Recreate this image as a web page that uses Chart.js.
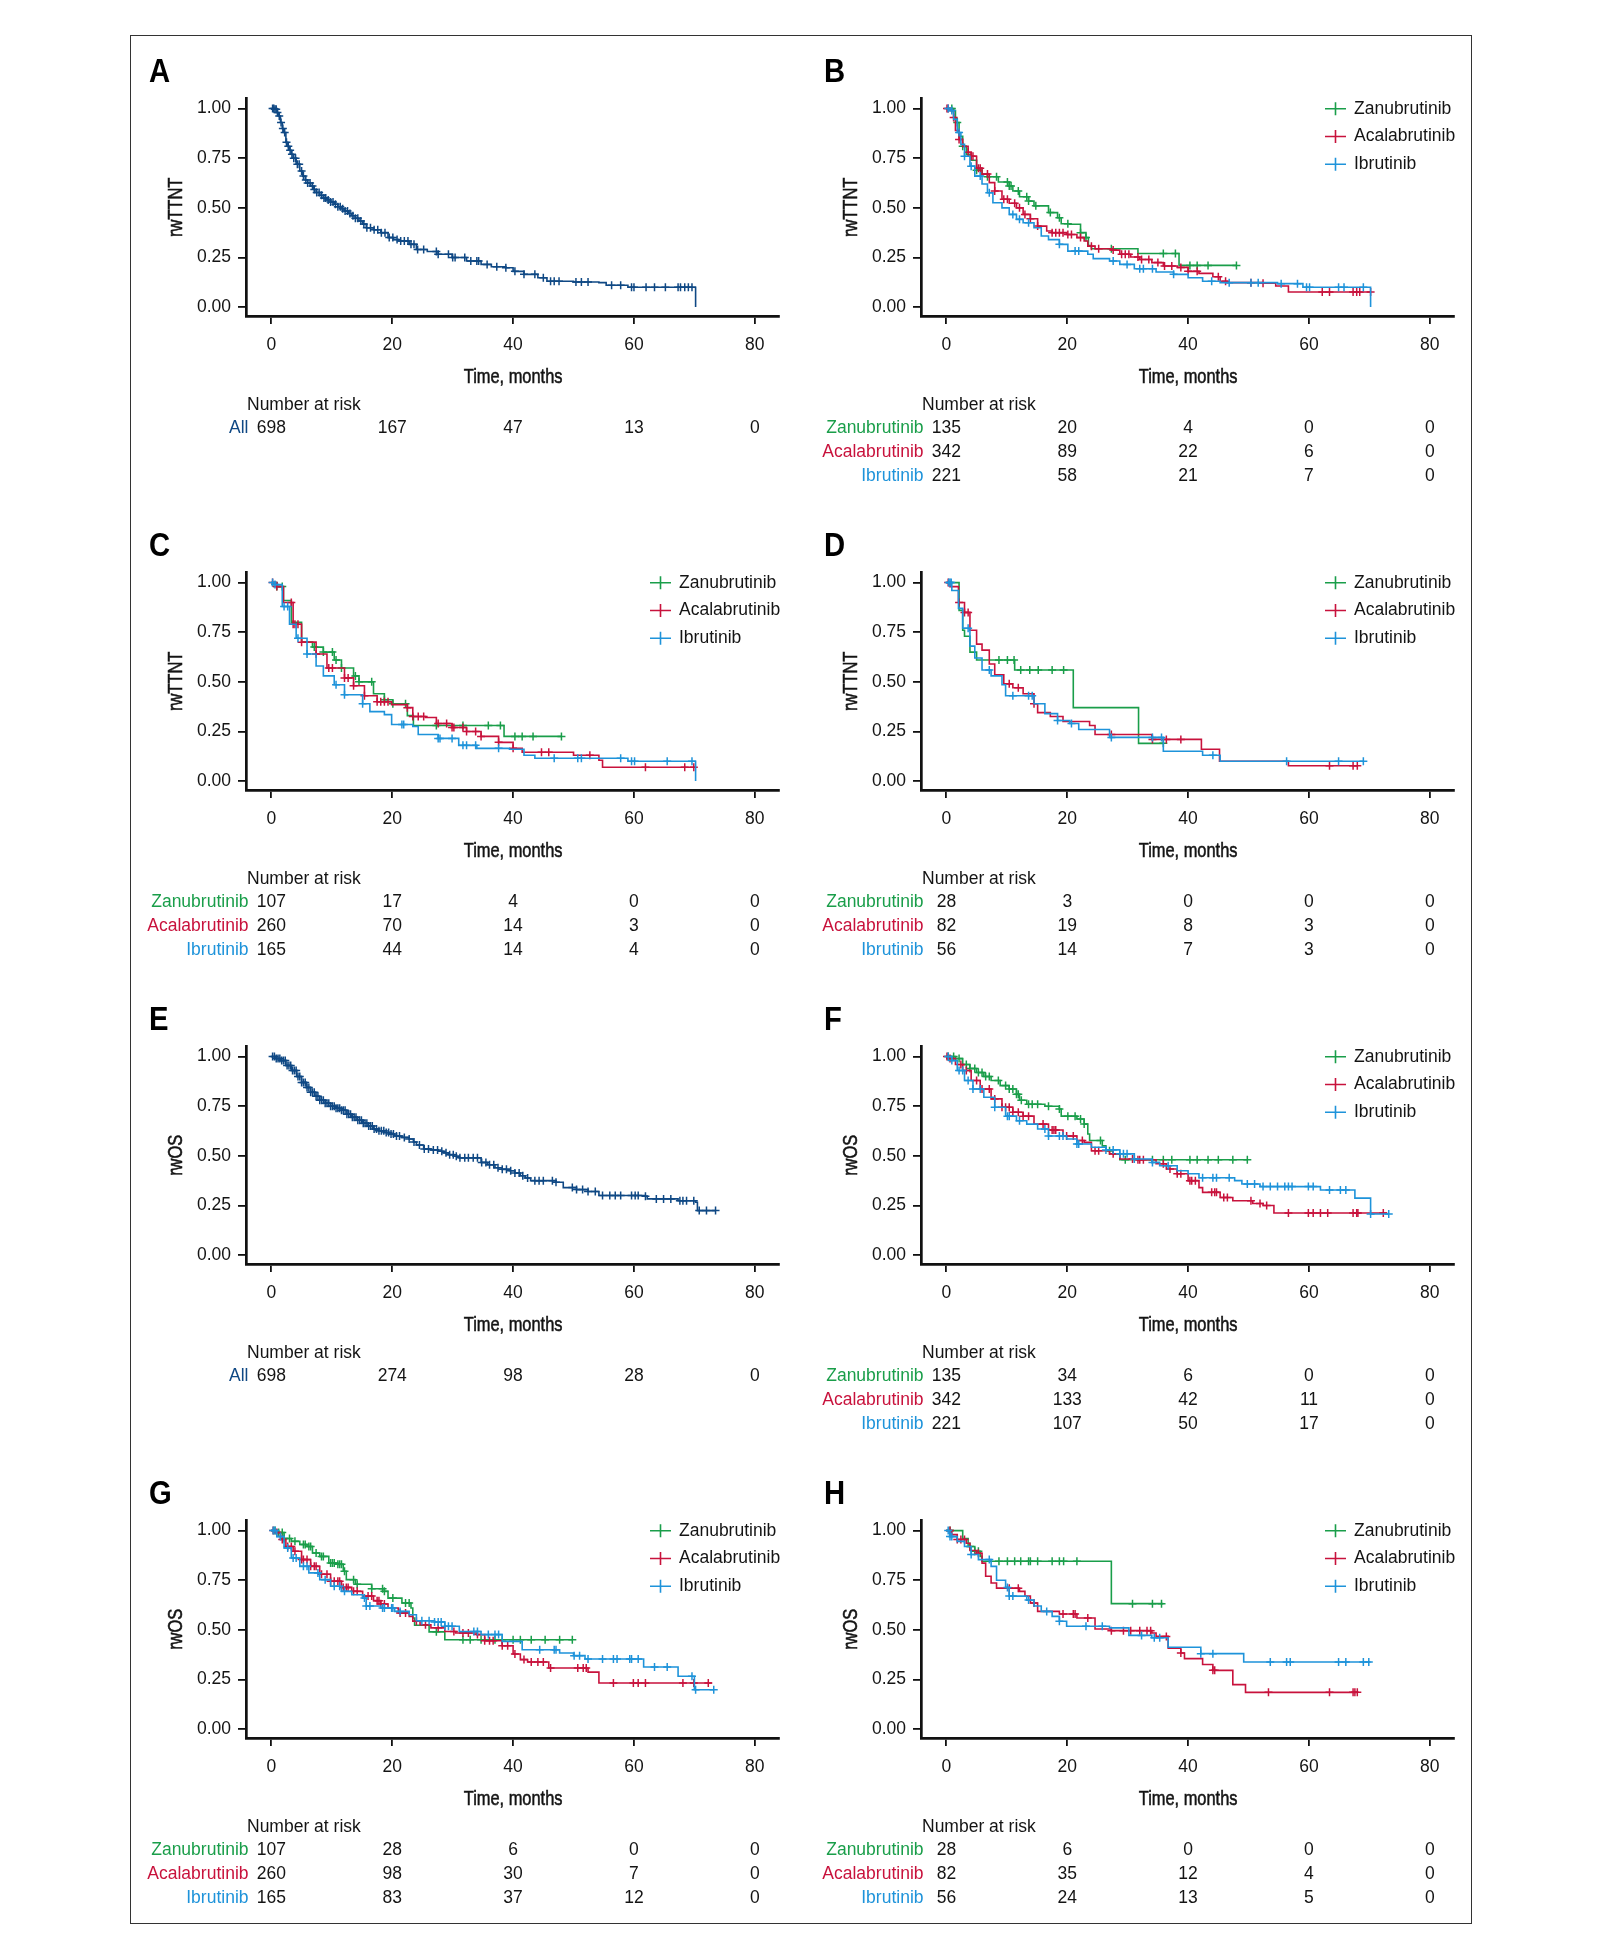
<!DOCTYPE html>
<html><head><meta charset="utf-8">
<script src="https://cdn.jsdelivr.net/npm/chart.js@4.4.1/dist/chart.umd.min.js"></script>
<style>
html,body{margin:0;padding:0;background:#fff;width:1605px;height:1935px;overflow:hidden;}
#frame{position:absolute;left:130px;top:35px;width:1342px;height:1889px;border:1.5px solid #333;box-sizing:border-box;}
canvas{position:absolute;}
</style></head><body>
<div id="frame"></div>
<script>
// ---------- axes ----------
const xTickValues = [0, 20, 40, 60, 80];
const xTickLabels = ['0', '20', '40', '60', '80'];
const yTickValues = [0, 0.25, 0.5, 0.75, 1];
const yTickLabels = ['0.00', '0.25', '0.50', '0.75', '1.00'];
const groupNames = ['Zanubrutinib', 'Acalabrutinib', 'Ibrutinib'];
const allName = 'All';
const xTitle = 'Time, months';
const yTitleTTNT = 'rwTTNT';
const yTitleOS = 'rwOS';

// ---------- Panel A : rwTTNT, all ----------
const A_all_time = [0,0.6,1.0,1.2,1.5,1.8,2.0,2.4,2.7,3.0,3.3,3.6,4.1,4.7,5.2,5.6,6.0,6.5,7.0,7.4,8.0,8.6,9.2,9.8,10.4,11,11.6,12.1,12.7,13.3,13.9,14.5,15.1,15.7,16.9,18.1,19.3,20.2,21,22.8,24,25.8,27.6,29.9,32.3,34.7,36.4,38.8,40,41.8,44.1,45.6,50,54.2,55.4,59,70.2];
const A_all_surv = [1,0.997,0.98,0.963,0.93,0.90,0.88,0.83,0.81,0.79,0.77,0.75,0.72,0.686,0.66,0.64,0.625,0.61,0.593,0.577,0.563,0.55,0.54,0.53,0.518,0.506,0.495,0.484,0.472,0.46,0.447,0.434,0.418,0.40,0.39,0.375,0.35,0.34,0.333,0.316,0.29,0.28,0.266,0.25,0.232,0.215,0.203,0.198,0.18,0.165,0.148,0.13,0.126,0.123,0.11,0.10,0];
const A_all_cens = [0.2,0.4,0.6,0.8,1.0,1.3,1.6,1.9,2.2,2.5,2.8,3.1,3.4,3.7,4.0,4.3,4.6,5.0,5.3,5.7,6.0,6.4,6.8,7.1,7.5,7.9,8.3,8.7,9.0,9.4,9.8,10.2,10.6,11.0,11.4,11.8,12.2,12.6,13.0,13.5,13.9,14.3,14.8,15.3,15.8,16.4,17.0,17.6,18.2,18.8,19.5,20.1,20.8,21.4,22.0,22.6,23.1,23.6,24.2,25.2,27.3,27.6,29.3,30.0,30.4,32.0,33.0,34.0,34.3,35.7,37.3,38.8,40.3,41.8,43.6,45.0,46.2,46.8,47.6,50.4,51.3,52.4,56.3,57.8,59.6,60.0,62.0,63.4,65.2,67.3,67.7,68.4,69.0,69.6];
const A_all_risk = [698, 167, 47, 13, 0];

// ---------- Panel B : rwTTNT by BTKi ----------
const B_zan_time = [0,1.2,1.5,1.8,2.1,2.7,3.3,4.1,5,5.9,6.8,8.6,10.4,11,12.1,13.6,14.5,16.9,18.4,19,20.4,22.2,23.1,23.5,24,31.7,38.5,48];
const B_zan_surv = [1,0.99,0.95,0.93,0.86,0.81,0.77,0.74,0.69,0.67,0.657,0.63,0.61,0.585,0.556,0.534,0.51,0.476,0.45,0.42,0.417,0.375,0.35,0.31,0.294,0.27,0.21,0.21];
const B_zan_cens = [0.9,1.8,2.7,5.0,6.8,8.3,10.1,10.4,10.7,11.9,13.3,13.6,14.8,17.2,18.7,20.1,22.2,23.1,27.3,35.9,37.9,40.3,41.5,43.3,48.0];
const B_zan_risk = [135, 20, 4, 0, 0];
const B_aca_time = [0,0.6,1.2,1.5,2.1,2.7,3.6,4.1,5,5.9,7.1,8,9.2,10.4,11.6,12.7,13.9,15.1,16.6,17.5,19.9,21.6,22.8,23.4,24.6,27.3,28.7,30.5,32,34,35.9,38.2,40,41.8,44.1,45.3,46.5,52.4,54.5,56.6,70.2];
const B_aca_surv = [1,0.99,0.955,0.89,0.845,0.81,0.78,0.76,0.70,0.67,0.627,0.585,0.543,0.523,0.50,0.467,0.445,0.408,0.383,0.375,0.366,0.35,0.333,0.307,0.294,0.287,0.266,0.252,0.24,0.224,0.207,0.20,0.18,0.17,0.153,0.13,0.123,0.12,0.106,0.076,0.076];
const B_aca_cens = [0.1,0.3,1.2,2.1,3.6,4.1,4.4,5.3,5.6,6.8,8.0,9.5,10.1,11.3,12.1,13.0,13.9,15.1,17.5,18.1,18.7,19.3,20.1,20.7,22.2,24.0,25.2,27.6,29.0,29.6,30.2,31.7,32.3,33.5,35.0,36.1,37.3,38.8,40.0,41.5,45.0,46.2,50.4,52.4,62.2,63.4,67.3,67.9,68.4,70.2];
const B_aca_risk = [342, 89, 22, 6, 0];
const B_ibr_time = [0,0.6,1.2,1.8,2.4,3,3.9,4.7,5.9,6.8,7.7,9.2,10.4,11.6,12.7,14.5,15.7,16.9,18.7,20.1,23.4,24.3,27,28.7,31.1,34.7,37.6,40,42.4,45.3,54.8,59,70.2];
const B_ibr_surv = [1,0.99,0.946,0.88,0.82,0.76,0.71,0.66,0.62,0.576,0.526,0.50,0.467,0.442,0.425,0.40,0.358,0.34,0.316,0.282,0.266,0.244,0.232,0.215,0.193,0.177,0.165,0.148,0.13,0.123,0.118,0.10,0];
const B_ibr_cens = [0.3,0.9,2.1,3.0,4.1,5.6,7.1,11.0,12.1,13.6,18.7,21.3,21.9,27.6,29.9,32.0,32.6,34.1,37.6,43.9,46.8,50.4,51.6,55.4,58.1,59.6,60.1,64.9,65.8,69.0];
const B_ibr_risk = [221, 58, 21, 7, 0];

// ---------- Panel C ----------
const C_zan_time = [0,0.9,2,3.3,5,6.8,8.6,10.4,11.6,13.6,14.5,16.9,18.7,20.1,22.5,23.5,38.5,48];
const C_zan_surv = [1,0.98,0.91,0.80,0.70,0.675,0.65,0.61,0.57,0.53,0.50,0.44,0.41,0.39,0.33,0.28,0.225,0.225];
const C_zan_cens = [0.9,1.8,7.1,8.6,10.1,10.7,11.6,13.9,14.5,16.6,18.7,20.1,22.2,27.3,31.7,35.9,37.9,40.3,41.5,43.3,48.0];
const C_zan_risk = [107, 17, 4, 0, 0];
const C_aca_time = [0,0.9,2,3.6,5,7.4,9.2,12.1,13.6,15.4,17.5,19.9,22.5,23.4,25.5,27.3,29.9,32.3,34.7,37.6,40,41.5,50,54.2,54.8,70.2];
const C_aca_surv = [1,0.98,0.90,0.79,0.70,0.64,0.57,0.52,0.48,0.43,0.40,0.385,0.37,0.325,0.32,0.29,0.27,0.25,0.225,0.195,0.165,0.145,0.13,0.105,0.07,0.07];
const C_aca_cens = [0.2,0.9,3.3,3.6,3.9,4.4,5.0,7.4,9.5,10.1,12.1,12.7,13.6,15.4,17.5,18.1,18.7,19.3,22.5,23.4,24.3,25.2,27.6,29.0,29.9,30.2,31.7,32.3,33.8,34.7,37.6,40.0,44.7,45.9,52.7,61.9,68.4,69.9];
const C_aca_risk = [260, 70, 14, 3, 0];
const C_ibr_time = [0,0.6,1.8,3,4.1,5.9,7.4,8.6,10.4,12.1,15.1,16.3,18.7,19.9,23.4,24.3,27.6,31,34,39.4,41.8,43.6,59,70.2];
const C_ibr_surv = [1,0.99,0.88,0.79,0.72,0.64,0.58,0.53,0.485,0.435,0.39,0.35,0.335,0.285,0.275,0.235,0.215,0.18,0.165,0.16,0.13,0.115,0.10,0];
const C_ibr_cens = [0.2,0.6,2.1,2.7,4.4,5.9,10.7,12.1,15.1,21.6,21.9,27.6,27.9,29.9,31.7,32.3,33.8,37.6,46.8,50.7,51.3,57.8,59.6,60.1,65.5,69.6];
const C_ibr_risk = [165, 44, 14, 4, 0];

// ---------- Panel D ----------
const D_zan_time = [0,2.1,2.7,3.0,3.9,5.0,11.3,21,31.8,35.9];
const D_zan_surv = [1,0.86,0.76,0.73,0.65,0.61,0.56,0.37,0.19,0.19];
const D_zan_cens = [8.7,10.1,11.2,12.3,13.8,15.2,17.5,19.4,35.9];
const D_zan_risk = [28, 3, 0, 0, 0];
const D_aca_time = [0,0.6,2,3,3.9,5,5.9,7.1,8,9.5,11,12.7,14.5,15.1,17.2,19.3,23.7,24.6,34,42.2,45.2,56.6,68.1];
const D_aca_surv = [1,0.98,0.90,0.85,0.76,0.69,0.66,0.59,0.535,0.49,0.47,0.44,0.39,0.345,0.325,0.30,0.28,0.235,0.21,0.16,0.10,0.077,0.077];
const D_aca_cens = [0.3,2.1,3.0,3.6,10.4,11.9,14.5,27.3,34.1,36.4,38.8,63.4,67.3,68.0];
const D_aca_risk = [82, 19, 8, 3, 0];
const D_ibr_time = [0,0.9,2,2.7,3.9,4.7,5.9,7.4,9.2,9.8,14.5,16.3,18.4,20.4,21.9,27,35.9,42.4,45.3,69];
const D_ibr_surv = [1,0.96,0.87,0.77,0.68,0.62,0.56,0.53,0.485,0.43,0.39,0.34,0.305,0.29,0.26,0.22,0.15,0.13,0.10,0.10];
const D_ibr_cens = [0.4,0.6,0.8,3.6,7.1,11.0,13.6,14.2,18.4,20.7,27.3,34.1,35.6,44.1,56.3,64.9,69.0];
const D_ibr_risk = [56, 14, 7, 3, 0];

// ---------- Panel E : rwOS, all ----------
const E_all_time = [0,0.8,1.5,2.4,3.3,4.2,5,5.8,6.5,7.2,8,8.9,9.8,10.7,11.6,12.5,13.3,14.2,15.1,16,16.9,17.8,18.7,19.6,20.4,21.6,22.8,23.5,24,25.2,26.4,27.6,28.5,29.3,30.2,31.1,34.7,35.8,37,38.2,39.4,40.3,41.2,42,42.9,47.1,48.3,50.5,52.4,54.2,61.9,62.2,67.3,70.2,70.5,73.5];
const E_all_surv = [1,0.99,0.98,0.955,0.93,0.90,0.87,0.845,0.82,0.80,0.78,0.765,0.75,0.74,0.73,0.71,0.694,0.68,0.664,0.65,0.635,0.626,0.618,0.61,0.60,0.593,0.585,0.57,0.555,0.535,0.53,0.523,0.515,0.506,0.498,0.49,0.467,0.455,0.44,0.432,0.425,0.413,0.40,0.388,0.375,0.367,0.34,0.33,0.32,0.30,0.297,0.283,0.274,0.266,0.224,0.224];
const E_all_cens = [0.2,0.5,0.8,1.1,1.4,1.7,2.0,2.3,2.6,2.9,3.2,3.5,3.8,4.1,4.4,4.7,5.0,5.3,5.6,5.9,6.2,6.5,6.8,7.1,7.4,7.7,8.0,8.3,8.6,8.9,9.2,9.5,9.8,10.1,10.4,10.7,11.0,11.3,11.6,11.9,12.2,12.5,12.8,13.1,13.4,13.7,14.0,14.3,14.6,14.9,15.2,15.5,15.8,16.1,16.4,16.7,17.0,17.4,17.8,18.2,18.6,19.0,19.4,19.8,20.2,20.7,21.2,22.0,22.8,23.6,24.5,25.3,26.0,26.8,27.5,28.2,28.9,29.5,30.1,30.6,31.2,32.0,32.6,33.4,34.1,34.8,35.5,36.1,36.8,37.5,38.2,38.9,39.6,40.3,41.0,41.6,42.4,43.6,44.3,45.0,46.5,47.1,49.8,50.5,51.5,52.4,53.6,54.8,56.0,56.9,57.8,59.6,60.2,60.7,61.9,63.7,64.9,66.1,67.6,68.1,68.7,69.9,70.8,72.0,73.5];
const E_all_risk = [698, 274, 98, 28, 0];

// ---------- Panel F ----------
const F_zan_time = [0,1.5,2.7,3.9,5,6.2,7.4,8.9,10.4,11.6,12.1,13.3,16.3,18.7,19,21.6,22.8,23.4,23.7,25.8,26.4,27.6,28.7,49.8];
const F_zan_surv = [1,0.99,0.96,0.94,0.92,0.90,0.88,0.854,0.837,0.81,0.78,0.76,0.75,0.736,0.70,0.686,0.66,0.61,0.577,0.55,0.526,0.51,0.48,0.48];
const F_zan_cens = [0.3,1.2,2.1,3.3,3.9,4.7,5.3,5.9,6.5,7.1,8.6,9.8,10.4,11.0,11.6,11.9,12.4,13.6,14.2,15.1,16.9,18.7,20.1,21.3,22.2,22.8,25.5,27.0,29.6,34.1,35.9,37.3,40.3,41.5,43.3,45.0,47.4,49.8];
const F_zan_risk = [135, 34, 6, 0, 0];
const F_aca_time = [0,0.3,1.5,2.7,4.1,5.6,7.4,9.2,11,12.7,14.5,16.9,19.3,21.6,22.8,24,27,28.7,31.7,34.7,36.4,38.2,40,41.8,42.4,45.3,47.4,50.7,52.4,54.2,72.9];
const F_aca_surv = [1,0.99,0.96,0.93,0.88,0.837,0.787,0.745,0.72,0.70,0.66,0.63,0.60,0.577,0.568,0.526,0.51,0.484,0.48,0.46,0.434,0.41,0.375,0.34,0.316,0.29,0.274,0.26,0.25,0.212,0.212];
const F_aca_cens = [0.1,0.6,2.4,3.3,5.0,5.9,7.1,8.0,9.2,9.8,10.4,11.0,11.9,12.7,13.6,16.0,17.5,17.8,18.1,19.9,21.0,22.5,24.6,25.2,27.6,30.8,31.7,32.0,32.6,35.9,37.0,38.2,38.8,40.3,40.6,41.2,43.9,44.4,44.7,45.9,46.5,50.4,51.9,53.0,56.6,59.9,60.7,61.9,63.1,67.3,67.9,68.1,72.3];
const F_aca_risk = [342, 133, 42, 11, 0];
const F_ibr_time = [0,0.9,1.8,3,4.4,6.2,8,9.8,11.6,13.3,15.1,16.9,19.9,21.6,24,26.4,28.7,31.1,34,35.3,38.2,40,41.8,47.7,48.9,51.9,61.9,67.6,70.2,73.2];
const F_ibr_surv = [1,0.98,0.93,0.88,0.837,0.795,0.745,0.70,0.677,0.66,0.635,0.60,0.585,0.56,0.543,0.53,0.51,0.484,0.467,0.45,0.425,0.41,0.39,0.375,0.358,0.345,0.328,0.287,0.207,0.207];
const F_ibr_cens = [0.3,0.9,2.1,2.7,3.6,4.4,5.6,8.0,10.1,10.4,12.1,16.3,16.9,18.7,19.3,21.6,21.9,26.4,27.6,28.7,29.3,29.9,31.1,34.1,36.7,42.4,44.1,44.7,46.8,49.8,51.0,52.4,53.6,54.8,56.0,56.6,57.2,59.9,60.7,63.4,65.2,66.1,70.2,73.2];
const F_ibr_risk = [221, 107, 50, 17, 0];

// ---------- Panel G ----------
const G_zan_time = [0,1.2,2.1,3.3,4.7,5.9,6.8,8,9.5,11,11.9,12.4,13.9,16.6,18.7,19.3,21.6,23.1,23.4,23.7,26.1,28.7,49.8];
const G_zan_surv = [1,0.99,0.96,0.946,0.93,0.92,0.887,0.87,0.837,0.83,0.795,0.753,0.73,0.707,0.694,0.66,0.635,0.61,0.56,0.523,0.49,0.45,0.45];
const G_zan_cens = [0.6,1.2,1.8,2.1,3.0,3.9,5.3,5.6,6.2,6.5,7.4,8.3,8.6,9.8,10.1,10.4,11.0,11.3,11.6,12.1,13.6,14.2,16.6,18.4,18.7,20.1,22.2,22.8,27.3,31.7,32.9,34.7,37.0,38.2,40.0,41.2,43.0,45.3,47.7,49.8];
const G_zan_risk = [107, 28, 6, 0, 0];
const G_aca_time = [0,0.6,1.5,2.4,3.6,5,6.5,8,9.8,11.6,13.3,15.1,16.9,18.1,19.3,21,22.8,23.4,24.6,26.4,28.7,30.5,34,35.3,38.2,40,41.2,42.4,45.9,52.4,54.2,72.9];
const G_aca_surv = [1,0.99,0.955,0.92,0.896,0.854,0.82,0.78,0.745,0.714,0.694,0.67,0.647,0.63,0.61,0.585,0.568,0.543,0.526,0.51,0.492,0.484,0.476,0.445,0.42,0.378,0.35,0.338,0.308,0.287,0.232,0.232];
const G_aca_cens = [0.3,0.9,1.8,2.7,3.3,3.9,5.0,5.3,5.9,6.5,7.1,7.4,8.3,9.2,9.8,10.4,11.0,11.3,11.9,12.4,12.7,13.6,14.2,16.0,16.6,17.5,17.8,18.1,18.7,21.3,22.2,24.0,25.5,27.6,30.2,31.7,32.6,34.1,35.3,36.1,36.7,38.2,39.1,40.3,41.8,43.0,44.1,45.0,46.2,50.7,51.6,52.1,56.6,59.9,60.7,61.9,68.1,69.9,72.3];
const G_aca_risk = [260, 98, 30, 7, 0];
const G_ibr_time = [0,0.9,2.1,3.3,4.7,6.2,8,9.8,11.6,13.3,15.1,15.7,18.1,20.4,22.8,24,27,28.7,31.1,34.7,38.2,41.5,47.7,50,51.9,61.6,67.3,70,73.2];
const G_ibr_surv = [1,0.97,0.913,0.862,0.82,0.787,0.753,0.72,0.694,0.677,0.66,0.62,0.61,0.593,0.576,0.546,0.54,0.518,0.492,0.476,0.442,0.40,0.383,0.37,0.353,0.313,0.266,0.198,0.198];
const G_ibr_cens = [0.3,0.6,1.5,2.7,3.6,4.1,5.3,5.9,7.7,8.9,10.4,11.3,12.1,15.4,15.7,16.3,18.4,18.7,19.9,20.1,21.3,24.9,26.1,27.0,27.6,28.1,28.7,29.3,29.9,33.5,34.1,35.9,37.0,37.6,44.4,46.8,47.1,50.1,51.0,52.4,54.8,56.6,57.2,59.3,59.6,60.7,63.4,65.5,69.6,70.2,73.2];
const G_ibr_risk = [165, 83, 37, 12, 0];

// ---------- Panel H ----------
const H_zan_time = [0,2.7,3.6,4.7,5.6,5.9,27.3,35.9];
const H_zan_surv = [1,0.96,0.92,0.896,0.87,0.846,0.632,0.632];
const H_zan_cens = [0.6,3.9,4.7,5.3,8.7,10.1,11.3,12.3,13.6,13.9,15.1,17.5,18.7,19.4,21.6,30.8,34.1,35.6];
const H_zan_risk = [28, 6, 0, 0, 0];
const H_aca_time = [0,0.9,1.8,3.3,3.9,5,5.9,6.5,7.4,8.3,12.1,13,13.9,15.1,18.7,21.6,24.6,27.3,34,34.7,36.7,38.8,39.4,42.4,44.1,47.4,49.5,68.1];
const H_aca_surv = [1,0.98,0.955,0.936,0.90,0.886,0.836,0.77,0.736,0.71,0.694,0.67,0.635,0.593,0.58,0.56,0.504,0.496,0.484,0.467,0.408,0.383,0.355,0.325,0.296,0.224,0.185,0.185];
const H_aca_cens = [0.6,1.8,2.4,3.0,5.3,10.4,11.9,14.5,19.3,21.0,21.3,23.4,27.3,29.3,30.5,32.0,33.2,33.8,36.4,38.8,44.1,44.4,53.3,63.4,67.3,67.6,68.0];
const H_aca_risk = [82, 35, 12, 4, 0];
const H_ibr_time = [0,0.6,1.8,3,4.1,5.3,7.4,8.3,9.8,10.4,13.3,14.5,15.7,17.5,18.7,19.9,27,30.2,34,36.7,42.1,49.2,70.2];
const H_ibr_surv = [1,0.97,0.946,0.92,0.88,0.854,0.82,0.75,0.714,0.67,0.65,0.62,0.593,0.568,0.543,0.518,0.51,0.472,0.46,0.412,0.38,0.338,0.338];
const H_ibr_cens = [0.3,0.6,0.9,4.1,7.1,10.1,10.4,11.0,13.6,16.6,18.7,23.1,25.8,32.3,34.4,35.3,42.1,44.1,53.6,56.3,56.9,64.9,66.1,69.0,69.9];
const H_ibr_risk = [56, 24, 13, 5, 0];

// ---------- styles ----------
const COL = {all:'#0f4884', zan:'#1a9e4a', aca:'#c8123c', ibr:'#1e93da'};
const TXT = '#141414';
const FONT = '"Liberation Sans", Arial, Helvetica, sans-serif';
const PANEL_W = 675, PANEL_H = 474, ORIGIN_X = 130, ORIGIN_Y = 35;

function grp(name, color, t, s, c, risk) { return {name, color, t, s, c, risk}; }
const panels = [
  {letter:'A', ytitle:yTitleTTNT, row:0, col:0, legend:false, series:[grp(allName, COL.all, A_all_time, A_all_surv, A_all_cens, A_all_risk)]},
  {letter:'B', ytitle:yTitleTTNT, row:0, col:1, legend:true, series:[
    grp(groupNames[0], COL.zan, B_zan_time, B_zan_surv, B_zan_cens, B_zan_risk),
    grp(groupNames[1], COL.aca, B_aca_time, B_aca_surv, B_aca_cens, B_aca_risk),
    grp(groupNames[2], COL.ibr, B_ibr_time, B_ibr_surv, B_ibr_cens, B_ibr_risk)]},
  {letter:'C', ytitle:yTitleTTNT, row:1, col:0, legend:true, series:[
    grp(groupNames[0], COL.zan, C_zan_time, C_zan_surv, C_zan_cens, C_zan_risk),
    grp(groupNames[1], COL.aca, C_aca_time, C_aca_surv, C_aca_cens, C_aca_risk),
    grp(groupNames[2], COL.ibr, C_ibr_time, C_ibr_surv, C_ibr_cens, C_ibr_risk)]},
  {letter:'D', ytitle:yTitleTTNT, row:1, col:1, legend:true, series:[
    grp(groupNames[0], COL.zan, D_zan_time, D_zan_surv, D_zan_cens, D_zan_risk),
    grp(groupNames[1], COL.aca, D_aca_time, D_aca_surv, D_aca_cens, D_aca_risk),
    grp(groupNames[2], COL.ibr, D_ibr_time, D_ibr_surv, D_ibr_cens, D_ibr_risk)]},
  {letter:'E', ytitle:yTitleOS, row:2, col:0, legend:false, series:[grp(allName, COL.all, E_all_time, E_all_surv, E_all_cens, E_all_risk)]},
  {letter:'F', ytitle:yTitleOS, row:2, col:1, legend:true, series:[
    grp(groupNames[0], COL.zan, F_zan_time, F_zan_surv, F_zan_cens, F_zan_risk),
    grp(groupNames[1], COL.aca, F_aca_time, F_aca_surv, F_aca_cens, F_aca_risk),
    grp(groupNames[2], COL.ibr, F_ibr_time, F_ibr_surv, F_ibr_cens, F_ibr_risk)]},
  {letter:'G', ytitle:yTitleOS, row:3, col:0, legend:true, series:[
    grp(groupNames[0], COL.zan, G_zan_time, G_zan_surv, G_zan_cens, G_zan_risk),
    grp(groupNames[1], COL.aca, G_aca_time, G_aca_surv, G_aca_cens, G_aca_risk),
    grp(groupNames[2], COL.ibr, G_ibr_time, G_ibr_surv, G_ibr_cens, G_ibr_risk)]},
  {letter:'H', ytitle:yTitleOS, row:3, col:1, legend:true, series:[
    grp(groupNames[0], COL.zan, H_zan_time, H_zan_surv, H_zan_cens, H_zan_risk),
    grp(groupNames[1], COL.aca, H_aca_time, H_aca_surv, H_aca_cens, H_aca_risk),
    grp(groupNames[2], COL.ibr, H_ibr_time, H_ibr_surv, H_ibr_cens, H_ibr_risk)]}
];

function survAt(x, times, surv) {
  let v = surv[0];
  for (let i = 0; i < times.length; i++) { if (times[i] <= x) v = surv[i]; else break; }
  return v;
}

function condensedText(ctx, text, x, y, rot, size) {
  ctx.save();
  ctx.translate(x, y);
  if (rot) ctx.rotate(rot);
  ctx.scale(0.82, 1);
  ctx.font = size + 'px ' + FONT;
  ctx.fillStyle = TXT; ctx.strokeStyle = TXT; ctx.lineWidth = 0.55;
  ctx.textAlign = 'center'; ctx.textBaseline = 'middle';
  ctx.fillText(text, 0, 0);
  ctx.strokeText(text, 0, 0);
  ctx.restore();
}

const kmDecor = {
  id: 'kmDecor',
  afterDraw(chart) {
    const p = chart.options.plugins.kmDecor.panel;
    const ctx = chart.ctx, ca = chart.chartArea, xs = chart.scales.x;
    ctx.save();
    // panel letter
    ctx.save();
    ctx.translate(19, 47);
    ctx.scale(0.86, 1);
    ctx.font = 'bold 34px ' + FONT;
    ctx.fillStyle = '#000';
    ctx.textAlign = 'left'; ctx.textBaseline = 'alphabetic';
    ctx.fillText(p.letter, 0, 0);
    ctx.restore();
    // axis titles (condensed)
    condensedText(ctx, p.ytitle, 46, (ca.top + ca.bottom) / 2, -Math.PI / 2, 20);
    const xc = (xs.getPixelForValue(xTickValues[0]) + xs.getPixelForValue(xTickValues[xTickValues.length-1])) / 2;
    condensedText(ctx, xTitle, xc, 342.5, 0, 20);
    // legend
    if (p.legend) {
      ctx.font = '17.5px ' + FONT;
      ctx.textBaseline = 'middle'; ctx.textAlign = 'left';
      p.series.forEach((s, i) => {
        const y = 73.7 + i * 27.8;
        ctx.strokeStyle = s.color; ctx.lineWidth = 1.6;
        ctx.beginPath();
        ctx.moveTo(520, y); ctx.lineTo(541, y);
        ctx.moveTo(530.5, y - 6.5); ctx.lineTo(530.5, y + 6.5);
        ctx.stroke();
        ctx.fillStyle = TXT;
        ctx.fillText(s.name, 549, y);
      });
    }
    // risk table
    ctx.font = '17.5px ' + FONT;
    ctx.textBaseline = 'middle';
    ctx.fillStyle = TXT; ctx.textAlign = 'left';
    ctx.fillText('Number at risk', ca.left + 1, 370);
    p.series.forEach((s, i) => {
      const y = 393 + i * 24;
      ctx.fillStyle = s.color; ctx.textAlign = 'right';
      ctx.fillText(s.name, ca.left + 2.5, y);
      ctx.fillStyle = TXT; ctx.textAlign = 'center';
      s.risk.forEach((n, j) => ctx.fillText(String(n), xs.getPixelForValue(xTickValues[j]), y));
    });
    ctx.restore();
  }
};

function axisCommon() {
  return {
    grid: {display: true, drawOnChartArea: false, drawTicks: true, tickLength: 8, color: '#111', lineWidth: 1.8},
    border: {display: true, color: '#111', width: 2.7}
  };
}

panels.forEach(p => {
  const cv = document.createElement('canvas');
  cv.width = PANEL_W; cv.height = PANEL_H;
  cv.style.left = (ORIGIN_X + p.col * 675) + 'px';
  cv.style.top = (ORIGIN_Y + p.row * 474) + 'px';
  cv.style.width = PANEL_W + 'px'; cv.style.height = PANEL_H + 'px';
  document.body.appendChild(cv);
  const datasets = [];
  p.series.slice().reverse().forEach(s => {
    datasets.push({
      label: s.name,
      data: s.t.map((x, i) => ({x: x, y: s.s[i]})),
      showLine: true, stepped: true, borderColor: s.color, borderWidth: 1.6,
      pointRadius: 0, pointHoverRadius: 0, fill: false, tension: 0
    });
    datasets.push({
      label: s.name + ' censored',
      data: s.c.map(x => ({x: x, y: survAt(x, s.t, s.s)})),
      showLine: false, pointStyle: 'cross', pointRadius: 4, pointBorderWidth: 1.5,
      pointBorderColor: s.color, pointBackgroundColor: s.color
    });
  });
  const xa = axisCommon(), ya = axisCommon();
  new Chart(cv, {
    type: 'scatter',
    data: {datasets},
    options: {
      responsive: false, animation: false, devicePixelRatio: 1,
      layout: {padding: {left: 16, right: 26, top: 63.7, bottom: 83}},
      plugins: {legend: {display: false}, tooltip: {enabled: false}, kmDecor: {panel: p}},
      scales: {
        x: {
          type: 'linear', min: -4.2, max: 84,
          afterBuildTicks: (sc) => { sc.ticks = xTickValues.map(v => ({value: v})); },
          afterFit: (sc) => { sc.height = 110; },
          ticks: {color: TXT, font: {family: FONT, size: 17.5}, padding: 11, maxRotation: 0, autoSkip: false,
                  callback: (v) => xTickLabels[xTickValues.indexOf(v)]},
          grid: xa.grid, border: xa.border
        },
        y: {
          type: 'linear', min: -0.045, max: 1.05,
          afterBuildTicks: (sc) => { sc.ticks = yTickValues.map(v => ({value: v})); },
          afterFit: (sc) => { sc.width = 100; },
          ticks: {color: TXT, font: {family: FONT, size: 17.5}, padding: 7, autoSkip: false,
                  callback: (v) => yTickLabels[yTickValues.indexOf(v)]},
          grid: ya.grid, border: ya.border
        }
      }
    },
    plugins: [kmDecor]
  });
});
</script>
</body></html>
